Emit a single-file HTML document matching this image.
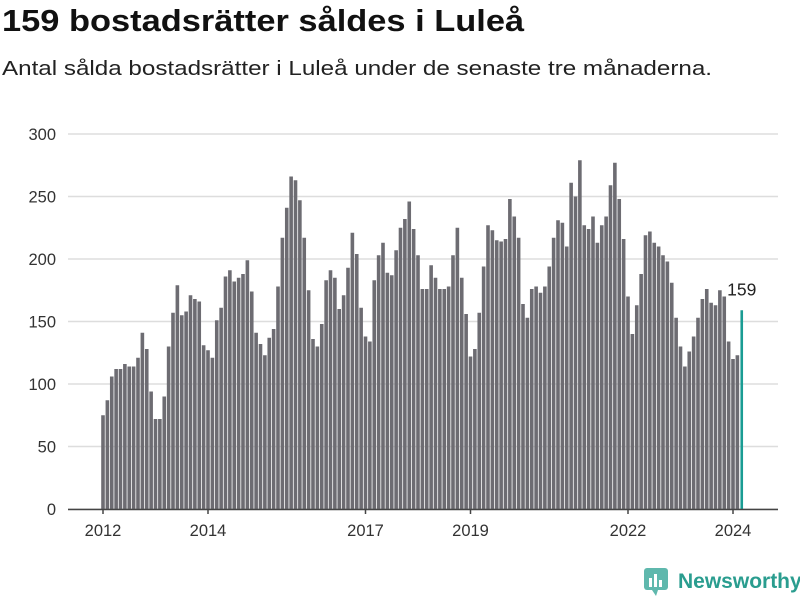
<!DOCTYPE html>
<html><head><meta charset="utf-8"><style>
body{margin:0;width:800px;height:600px;background:#fff;font-family:"Liberation Sans",sans-serif;overflow:hidden;position:relative}
#title{position:absolute;left:2px;top:3px;font-size:31px;font-weight:bold;color:#111;transform:scaleX(1.11);transform-origin:0 0;white-space:nowrap}
#sub{position:absolute;left:2px;top:57px;font-size:20.5px;color:#222;transform:scaleX(1.18);transform-origin:0 0;white-space:nowrap}
#logo{position:absolute;left:644px;top:568px;display:flex;align-items:center;gap:8px;color:#2a9d8f;font-size:21px;font-weight:bold}
</style></head><body>
<div id="title">159 bostadsrätter såldes i Luleå</div>
<div id="sub">Antal sålda bostadsrätter i Luleå under de senaste tre månaderna.</div>
<svg id="chart" width="800" height="600" style="position:absolute;left:0;top:0"></svg>
<div id="logo"><svg width="26" height="28"><rect x="0" y="0" width="24" height="22" rx="3" fill="#5fb8ad"/><rect x="5" y="10" width="3" height="9" fill="#fff"/><rect x="10" y="6" width="3" height="13" fill="#fff"/><rect x="15" y="12" width="3" height="7" fill="#fff"/><path d="M8 22 L12 28 L14 22Z" fill="#5fb8ad"/></svg><span>Newsworthy</span></div>
<script>
const values=[75,87,106,112,112,116,114,114,121,141,128,94,72,72,90,130,157,179,155,158,171,168,166,131,127,121,151,161,186,191,182,185,188,199,174,141,132,123,137,144,178,217,241,266,263,247,217,175,136,130,148,183,191,185,160,171,193,221,204,161,138,134,183,203,213,189,187,207,225,232,246,224,203,176,176,195,185,176,176,178,203,225,185,156,122,128,157,194,227,223,215,214,216,248,234,217,164,153,176,178,173,178,194,217,231,229,210,261,250,279,227,224,234,213,227,234,259,277,248,216,170,140,163,188,219,222,213,210,203,198,181,153,130,114,126,138,153,168,176,165,163,175,170,134,120,123,159];
const yTicks=[0,50,100,150,200,250,300];
const xTickLabels=["2012","2014","2017","2019","2022","2024"];
const xTickIndex=[0,24,60,84,120,144];
const NS="http://www.w3.org/2000/svg";
const svg=document.getElementById('chart');
const x=i=>103+i*4.375;
const y=v=>509-v*1.25;
function el(t,a){const e=document.createElementNS(NS,t);for(const k in a)e.setAttribute(k,a[k]);svg.appendChild(e);return e;}
yTicks.forEach(t=>{
 const g=el('line',{x1:68,x2:778,y1:y(t),y2:y(t),stroke:'#ddd','stroke-width':1.5});
 
 
 const l=el('text',{x:56,y:y(t)+6,'text-anchor':'end','font-size':16.5,fill:'#333'});
 l.textContent=t;
 
 
});
values.forEach((v,i)=>{
 const last=i===values.length-1;
 const r=el('rect',{x:x(i)-(last?1.3:1.8),y:y(v),width:last?2.6:3.6,height:v*1.25,fill:last?'#1a9c93':'#6d6c72'});
 
 
});
const ax=el('line',{x1:68,x2:778,y1:509.5,y2:509.5,stroke:'#444','stroke-width':1.5});


xTickLabels.forEach((lab,k)=>{
 const xi=x(xTickIndex[k]);
 const tk=el('line',{x1:xi,x2:xi,y1:509,y2:514,stroke:'#444','stroke-width':1.5});
 
 
 const t=el('text',{x:xi,y:536,'text-anchor':'middle','font-size':16.5,fill:'#333'});
 t.textContent=lab;
 
 
});
const lv=values[values.length-1];
const ann=el('text',{x:x(values.length-1),y:y(lv)-15,'text-anchor':'middle','font-size':17.5,fill:'#222'});
ann.textContent=lv;


</script>
</body></html>
